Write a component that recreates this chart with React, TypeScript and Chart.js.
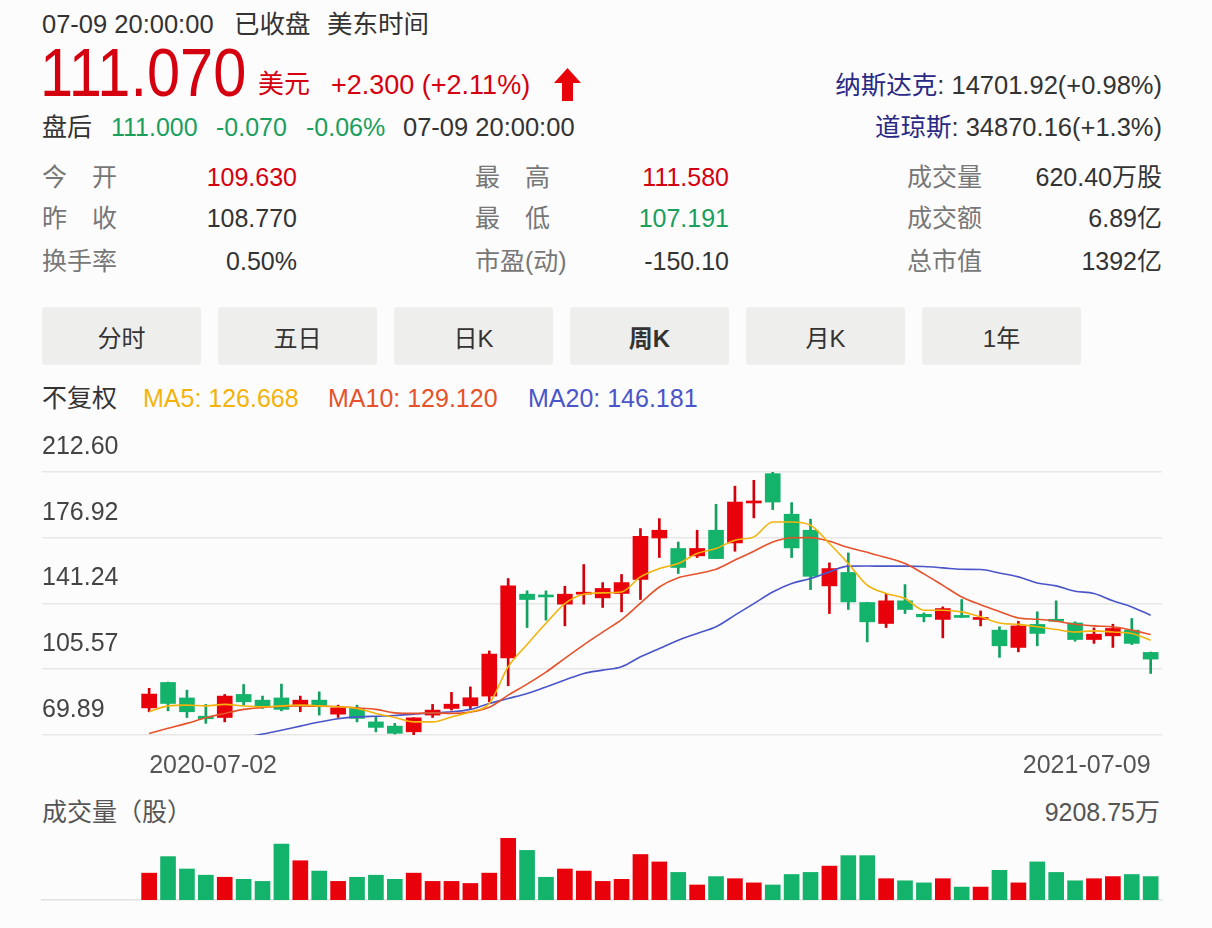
import React, { useEffect, useRef } from 'react';
import { Chart, registerables } from 'chart.js';

Chart.register(...registerables);

// ---------- data (weekly K line, 54 weeks) ----------
const dateLabels = ['2020-07-02', '2021-07-09'];
const yTicks = [69.89, 105.57, 141.24, 176.92, 212.6];
const volumeMaxLabel = '9208.75万';

const opens = [84.6, 98.4, 90.0, 80.1, 79.4, 91.9, 88.8, 90.0, 85.7, 88.8, 81.2, 84.3, 77.0, 74.7, 71.6, 80.7, 84.3, 85.7, 91.0, 111.7, 146.3, 145.4, 140.9, 146.3, 144.3, 146.7, 154.3, 176.8, 171.1, 167.1, 181.0, 174.1, 195.8, 211.7, 189.7, 181.0, 150.8, 158.1, 141.8, 130.4, 142.7, 135.4, 132.6, 134.4, 132.6, 126.8, 117.4, 129.9, 132.6, 130.7, 121.7, 123.7, 126.8, 114.7];
const closes = [92.1, 87.0, 82.5, 78.7, 91.0, 87.9, 85.5, 83.8, 88.8, 85.7, 84.6, 78.9, 74.0, 70.8, 79.2, 83.4, 86.6, 90.1, 113.8, 150.8, 143.4, 144.8, 146.3, 147.2, 149.4, 152.6, 177.7, 181.0, 160.8, 171.1, 165.6, 196.3, 196.7, 196.3, 171.4, 156.0, 160.2, 142.1, 131.3, 142.7, 138.0, 134.0, 138.5, 133.7, 133.4, 118.3, 129.1, 125.0, 131.6, 121.7, 124.6, 127.7, 119.6, 111.07];
const highs = [95.2, 98.6, 94.2, 86.5, 91.9, 97.3, 91.0, 97.5, 91.0, 93.3, 86.1, 86.1, 79.8, 76.2, 79.3, 86.5, 93.0, 96.0, 115.5, 154.8, 148.1, 148.1, 150.6, 162.4, 152.6, 157.0, 181.9, 187.3, 174.6, 181.0, 195.1, 204.9, 208.1, 212.6, 196.0, 187.0, 163.3, 168.7, 141.9, 146.7, 151.5, 136.1, 139.4, 143.4, 137.2, 128.6, 131.6, 136.7, 142.7, 131.3, 128.0, 130.0, 133.1, 114.9];
const lows = [82.5, 83.0, 79.4, 76.2, 77.0, 86.1, 84.3, 83.0, 82.5, 80.7, 79.4, 77.0, 71.6, 70.4, 69.89, 79.4, 83.4, 83.8, 87.9, 96.6, 128.2, 132.2, 129.1, 140.9, 139.1, 136.7, 143.4, 166.2, 157.5, 166.2, 165.6, 169.6, 187.7, 192.2, 166.2, 148.8, 135.8, 138.0, 120.4, 128.2, 135.8, 131.3, 122.6, 133.6, 129.1, 112.0, 115.0, 118.3, 131.6, 120.8, 119.6, 117.4, 119.0, 103.3];

const ma5 = [82.5, 85.7, 86.1, 85.7, 86.5, 85.6, 85.2, 85.7, 86.1, 85.7, 85.2, 84.3, 81.6, 79.4, 77.0, 77.0, 79.7, 82.5, 87.0, 106.9, 119.0, 130.5, 141.2, 146.3, 147.0, 147.5, 155.7, 160.2, 162.9, 168.4, 171.1, 175.6, 177.4, 185.5, 185.5, 183.7, 173.8, 162.9, 151.2, 146.7, 144.0, 137.6, 137.6, 136.7, 134.0, 130.7, 129.9, 128.6, 127.1, 125.8, 126.4, 125.8, 125.0, 121.3];
const ma10 = [70.7, 73.5, 76.2, 79.2, 81.6, 83.8, 84.8, 85.5, 85.7, 85.5, 85.2, 84.6, 83.8, 81.9, 81.6, 81.9, 81.6, 82.3, 84.9, 91.5, 97.5, 104.0, 111.5, 118.8, 125.7, 132.5, 141.4, 150.2, 155.2, 157.4, 159.8, 164.8, 169.6, 174.6, 176.9, 177.0, 175.0, 171.6, 169.0, 166.2, 162.9, 157.3, 151.1, 144.8, 140.6, 136.9, 133.4, 132.7, 131.6, 130.0, 129.1, 128.6, 126.8, 124.4];
const ma20 = [null, null, null, null, null, 68.5, 70.4, 72.5, 74.7, 76.9, 78.7, 79.7, 80.1, 80.5, 81.2, 81.9, 82.5, 83.8, 87.0, 89.7, 92.4, 96.0, 99.7, 103.3, 105.1, 106.9, 112.3, 116.8, 121.3, 125.0, 128.6, 134.9, 141.2, 147.5, 152.1, 154.8, 158.4, 161.5, 161.6, 161.5, 161.5, 161.3, 160.6, 159.8, 159.7, 157.8, 155.7, 152.4, 150.8, 147.9, 146.7, 142.7, 139.4, 134.9];

// volume in 万股
const volumes = [3990, 6446, 4604, 3684, 3377, 3070, 2763, 8288, 5832, 4297, 2763, 3377, 3684, 3070, 3990, 2763, 2763, 2456, 3990, 9208.75, 7367, 3377, 4604, 4297, 2763, 3070, 6753, 5656, 4099, 2231, 3476, 3165, 2542, 2231, 3788, 4099, 5033, 6590, 6590, 3165, 2854, 2542, 3165, 1920, 1920, 4410, 2542, 5656, 4099, 2854, 3165, 3476, 3788, 3476];

// ---------- styles ----------
const FF = '"Liberation Sans", Arial, "Noto Sans CJK SC", sans-serif';
const UP = '#e8000b';
const DOWN = '#14b36b';
const UP_WICK = '#d2000a';
const DOWN_WICK = '#12a060';
const TXT_RED = '#d5000f';
const TXT_GREEN = '#1a9f5e';
const NAVY = '#2a2a86';
const MA5_C = '#f3b30c';
const MA10_C = '#e6522a';
const MA20_C = '#4a55c9';

const X_MIN = -5.67;
const X_MAX = 53.6;

const idx = closes.map((_, i) => i);
const isUp = idx.map((i) => closes[i] >= opens[i]);

function Txt(props: { x: number; y: number; size?: number; color?: string; right?: boolean; bold?: boolean; children: any }) {
  const size = props.size ?? 25;
  const style: any = {
    position: 'absolute',
    top: props.y - size * 0.6,
    fontSize: size,
    lineHeight: `${size * 1.2}px`,
    color: props.color ?? '#333',
    whiteSpace: 'nowrap',
    fontWeight: props.bold ? 700 : 400,
  };
  if (props.right) style.right = 1212 - props.x;
  else style.left = props.x;
  return <div style={style}>{props.children}</div>;
}

function CandleChart() {
  const ref = useRef<HTMLCanvasElement>(null);
  useEffect(() => {
    const lineDs = (label: string, vals: (number | null)[], color: string, order: number) => ({
      type: 'line' as const,
      label,
      data: idx.map((i) => ({ x: i, y: vals[i] })),
      borderColor: color,
      borderWidth: 1.6,
      pointRadius: 0,
      cubicInterpolationMode: 'monotone' as const,
      spanGaps: false,
      order,
    });
    const chart = new Chart(ref.current!, {
      type: 'bar',
      data: {
        datasets: [
          lineDs('MA5', ma5, MA5_C, 0),
          lineDs('MA10', ma10, MA10_C, 0),
          lineDs('MA20', ma20, MA20_C, 0),
          {
            type: 'bar',
            label: 'body',
            data: idx.map((i) => ({ x: i, y: [opens[i], closes[i]] })) as any,
            backgroundColor: idx.map((i) => (isUp[i] ? UP : DOWN)),
            barThickness: 15,
            grouped: false,
            minBarLength: 2,
            borderWidth: 0,
            order: 1,
          } as any,
          {
            type: 'bar',
            label: 'wick',
            data: idx.map((i) => ({ x: i, y: [lows[i], highs[i]] })) as any,
            backgroundColor: idx.map((i) => (isUp[i] ? UP_WICK : DOWN_WICK)),
            barThickness: 2,
            grouped: false,
            borderWidth: 0,
            order: 2,
          } as any,
        ],
      },
      options: {
        animation: false,
        responsive: false,
        maintainAspectRatio: false,
        layout: { padding: { left: 42, right: 50, top: 52, bottom: 0 } },
        plugins: { legend: { display: false }, tooltip: { enabled: false } },
        scales: {
          x: {
            type: 'linear',
            offset: false,
            min: X_MIN,
            max: X_MAX,
            grid: { display: false, drawTicks: false, offset: false },
            border: { display: false },
            afterBuildTicks: (s: any) => {
              s.ticks = [{ value: 0 }, { value: closes.length - 1 }];
            },
            afterFit: (s: any) => {
              s.height = 55;
            },
            ticks: {
              align: 'inner',
              autoSkip: false,
              maxRotation: 0,
              padding: 16,
              color: '#555',
              font: { family: FF, size: 25 },
              callback: (_v: any, i: number) => dateLabels[i],
            },
          } as any,
          y: {
            type: 'linear',
            min: yTicks[0],
            max: yTicks[yTicks.length - 1],
            afterBuildTicks: (s: any) => {
              s.ticks = yTicks.map((v) => ({ value: v }));
            },
            grid: { color: '#e7e7e7', lineWidth: 1.5, drawTicks: false },
            border: { display: false },
            ticks: {
              mirror: true,
              padding: 0,
              labelOffset: -25,
              color: '#444',
              font: { family: FF, size: 25 },
              callback: (v: any) => Number(v).toFixed(2),
            },
          } as any,
        },
      },
    });
    return () => chart.destroy();
  }, []);
  return <canvas ref={ref} width={1212} height={370} style={{ position: 'absolute', left: 0, top: 420, width: 1212, height: 370 }} />;
}

function VolumeChart() {
  const ref = useRef<HTMLCanvasElement>(null);
  useEffect(() => {
    const chart = new Chart(ref.current!, {
      type: 'bar',
      data: {
        datasets: [
          {
            label: 'vol',
            data: idx.map((i) => ({ x: i, y: volumes[i] })) as any,
            backgroundColor: idx.map((i) => (isUp[i] ? UP : DOWN)),
            barThickness: 15,
            borderWidth: 0,
          } as any,
        ],
      },
      options: {
        animation: false,
        responsive: false,
        maintainAspectRatio: false,
        layout: { padding: { left: 42, right: 50, top: 8, bottom: 10 } },
        plugins: { legend: { display: false }, tooltip: { enabled: false } },
        scales: {
          x: {
            type: 'linear',
            offset: false,
            min: X_MIN,
            max: X_MAX,
            grid: { display: false, drawTicks: false, offset: false },
            border: { display: true, color: '#e2e2e2', width: 1.5, z: -1 },
            ticks: { display: false },
          } as any,
          y: {
            type: 'linear',
            min: 0,
            max: Math.max(...volumes),
            display: false,
          },
        },
      },
    });
    return () => chart.destroy();
  }, []);
  return <canvas ref={ref} width={1212} height={80} style={{ position: 'absolute', left: 0, top: 830, width: 1212, height: 80 }} />;
}

const tabs = ['分时', '五日', '日K', '周K', '月K', '1年'];

export default function App() {
  return (
    <div
      style={{
        position: 'absolute',
        left: 0,
        top: 0,
        width: 1212,
        height: 928,
        overflow: 'hidden',
        background: '#fcfcfc',
        fontFamily: FF,
      }}
    >
      {/* row 1 */}
      <Txt x={42} y={24} size={25.5}>07-09 20:00:00</Txt>
      <Txt x={234} y={24} size={25.5}>已收盘</Txt>
      <Txt x={327} y={24} size={25.5}>美东时间</Txt>

      {/* row 2 */}
      <div
        style={{
          position: 'absolute',
          left: 40,
          top: 32,
          fontSize: 68,
          lineHeight: '80px',
          color: TXT_RED,
          transform: 'scaleX(0.875)',
          transformOrigin: 'left center',
          whiteSpace: 'nowrap',
        }}
      >
        111.070
      </div>
      <Txt x={258} y={85} size={26} color={TXT_RED}>美元</Txt>
      <Txt x={331} y={85} size={27} color={TXT_RED}>+2.300 (+2.11%)</Txt>
      <svg style={{ position: 'absolute', left: 554, top: 68 }} width={27} height={33} viewBox="0 0 27 33">
        <polygon points="13.5,0 0,15 8,15 8,33 19,33 19,15 27,15" fill={UP} />
      </svg>
      <Txt x={1162} y={85} size={25.5} right>
        <span style={{ color: NAVY }}>纳斯达克</span>: 14701.92(+0.98%)
      </Txt>

      {/* row 3 */}
      <Txt x={42} y={127} size={25}>盘后</Txt>
      <Txt x={111} y={127} size={25} color={TXT_GREEN}>111.000</Txt>
      <Txt x={216} y={127} size={25} color={TXT_GREEN}>-0.070</Txt>
      <Txt x={306} y={127} size={25} color={TXT_GREEN}>-0.06%</Txt>
      <Txt x={403} y={127} size={25.5}>07-09 20:00:00</Txt>
      <Txt x={1162} y={127} size={25.5} right>
        <span style={{ color: NAVY }}>道琼斯</span>: 34870.16(+1.3%)
      </Txt>

      {/* stats */}
      <Txt x={42} y={177} color="#777">今　开</Txt>
      <Txt x={42} y={218} color="#777">昨　收</Txt>
      <Txt x={42} y={261} color="#777">换手率</Txt>
      <Txt x={297} y={177} right color={TXT_RED}>109.630</Txt>
      <Txt x={297} y={218} right>108.770</Txt>
      <Txt x={297} y={261} right>0.50%</Txt>

      <Txt x={475} y={177} color="#777">最　高</Txt>
      <Txt x={475} y={218} color="#777">最　低</Txt>
      <Txt x={475} y={261} color="#777">市盈(动)</Txt>
      <Txt x={729} y={177} right color={TXT_RED}>111.580</Txt>
      <Txt x={729} y={218} right color={TXT_GREEN}>107.191</Txt>
      <Txt x={729} y={261} right>-150.10</Txt>

      <Txt x={907} y={177} color="#777">成交量</Txt>
      <Txt x={907} y={218} color="#777">成交额</Txt>
      <Txt x={907} y={261} color="#777">总市值</Txt>
      <Txt x={1162} y={177} right>620.40万股</Txt>
      <Txt x={1162} y={218} right>6.89亿</Txt>
      <Txt x={1162} y={261} right>1392亿</Txt>

      {/* tabs */}
      {tabs.map((t, i) => (
        <div
          key={t}
          style={{
            position: 'absolute',
            left: 42 + i * 176,
            top: 307,
            width: 159,
            height: 58,
            background: '#eeeeec',
            borderRadius: 3,
            display: 'flex',
            alignItems: 'center',
            justifyContent: 'center',
            fontSize: 24,
            color: '#333',
            fontWeight: t === '周K' ? 700 : 400,
          }}
        >
          {t}
        </div>
      ))}

      {/* legend */}
      <Txt x={42} y={398}>不复权</Txt>
      <Txt x={143} y={398} color={MA5_C}>MA5: 126.668</Txt>
      <Txt x={328} y={398} color={MA10_C}>MA10: 129.120</Txt>
      <Txt x={528} y={398} color={MA20_C}>MA20: 146.181</Txt>

      <CandleChart />

      <Txt x={42} y={812} color="#555">成交量（股）</Txt>
      <Txt x={1160} y={812} right color="#555">{volumeMaxLabel}</Txt>

      <VolumeChart />
    </div>
  );
}
